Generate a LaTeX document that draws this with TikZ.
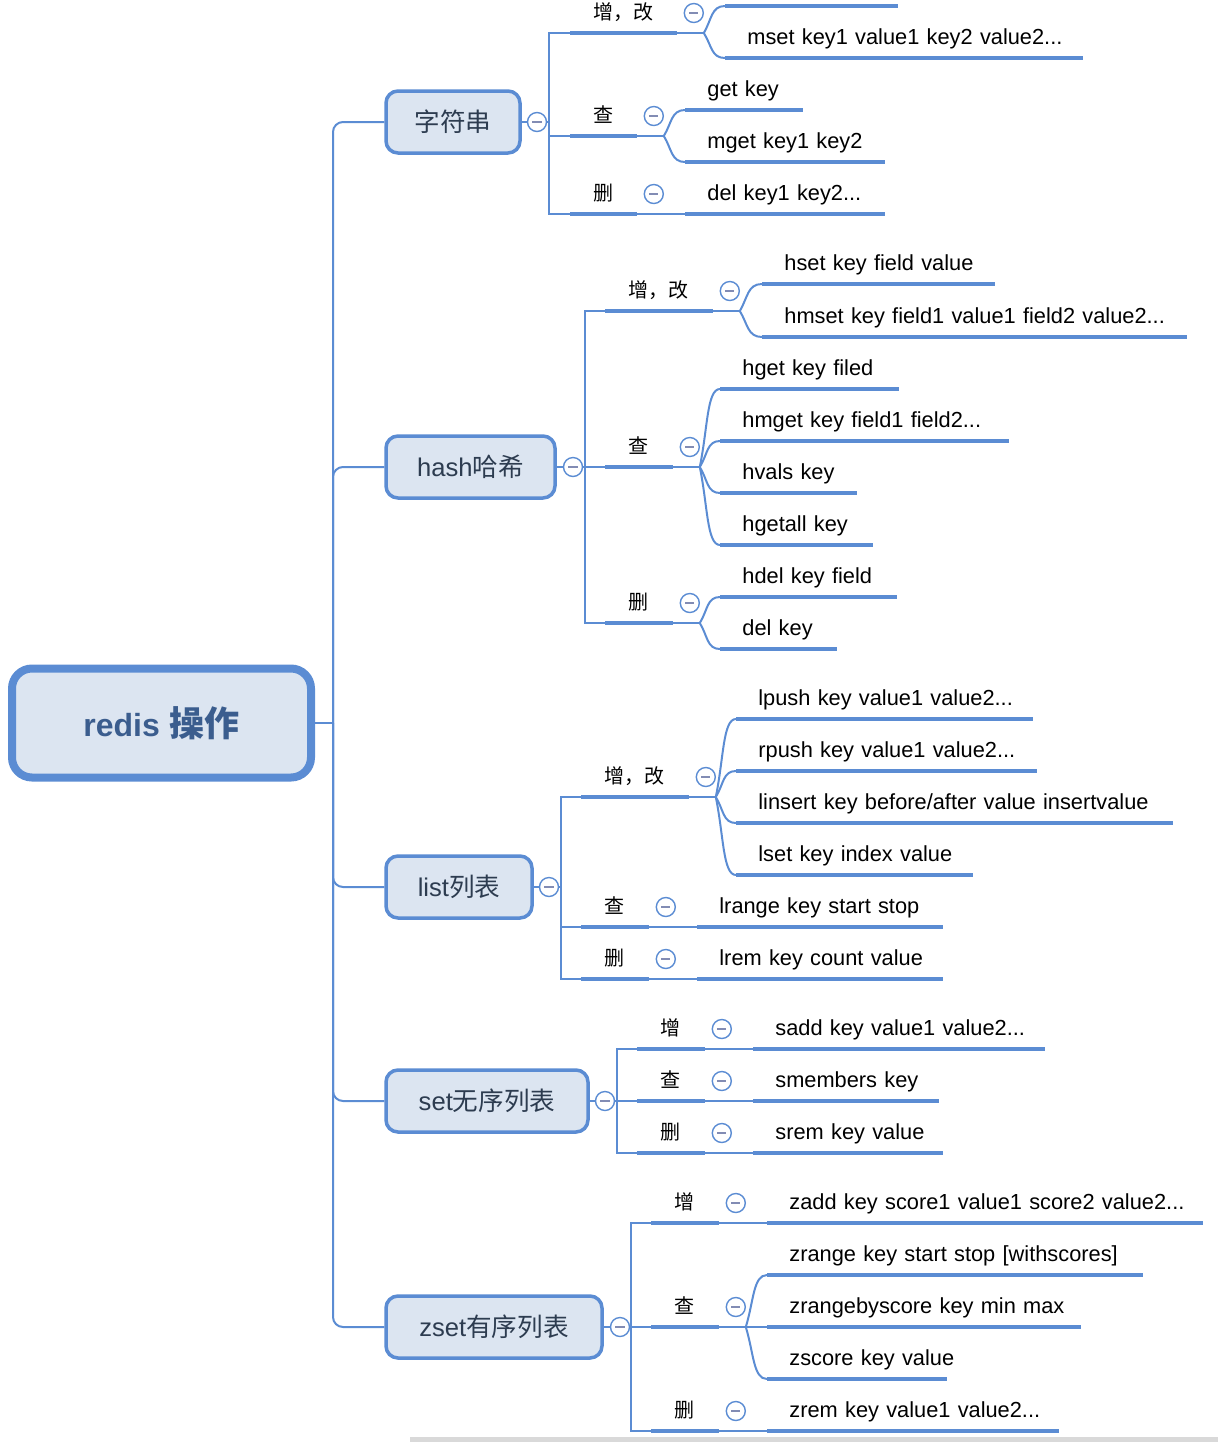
\documentclass[tikz,border=0pt]{standalone}
\usepackage{fontspec}
\setmainfont{Liberation Sans}
\newfontfamily\cjk{Noto Sans CJK SC}
\usepackage{tikz}
\usetikzlibrary{positioning,calc}
\definecolor{linkblue}{RGB}{91,140,211}
\definecolor{topicfill}{RGB}{220,229,241}
\definecolor{roottext}{RGB}{59,93,142}
\definecolor{topictext}{RGB}{45,60,80}
\definecolor{minusgray}{RGB}{130,140,180}

\begin{document}
\begin{tikzpicture}[
    x=0.5pt, y=-0.5pt,
    root/.style={draw=linkblue, line width=4pt, fill=topicfill, rounded corners=10pt, minimum width=149.5pt, minimum height=54.5pt, text=roottext, font=\fontsize{17.5}{20}\selectfont\bfseries},
    topic/.style={draw=linkblue, line width=1.75pt, fill=topicfill, rounded corners=6pt, minimum height=31pt, text=topictext, font=\fontsize{12.8}{15}\selectfont},
    sub/.style={anchor=south west, inner xsep=0pt, inner ysep=6.7pt, text height=8pt, text depth=0pt, font=\fontsize{10}{12}\selectfont\cjk},
    leaf/.style={anchor=south west, inner xsep=0pt, inner ysep=6.4pt, text height=8pt, text depth=0pt, align=left, font=\fontsize{10.9}{13}\selectfont, execute at begin node={\hspace*{11pt}\hbox\bgroup}, execute at end node={\egroup}},
    fold/.style={circle, draw=linkblue, line width=0.7pt, fill=white, minimum size=9.5pt, inner sep=0pt, path picture={\draw[minusgray, line width=0.8pt] ([xshift=-2.3pt]path picture bounding box.center) -- ([xshift=2.3pt]path picture bounding box.center);}},
    link/.style={draw=linkblue, line width=1pt},
    uline/.style={draw=linkblue, line width=2.2pt}
]
\useasboundingbox (0,0) rectangle (1218,1442);

% Root and topics
\node[root] (root) at (161.5,723) {{\fontsize{16}{20}\selectfont redis} {\cjk 操作}};
\node[topic, minimum width=67pt] (str) at (453,122) {\cjk 字符串};
\node[topic, minimum width=84.5pt] (hash) at (470.5,467) {hash{\cjk 哈希}};
\node[topic, minimum width=73pt] (list) at (459,887) {list{\cjk 列表}};
\node[topic, minimum width=101pt] (set) at (487,1101) {set{\cjk 无序列表}};
\node[topic, minimum width=108pt] (zset) at (494,1327) {zset{\cjk 有序列表}};

% Operations
\node[sub, minimum width=53pt] (stradd) at (570,33) {增，改};
\node[sub, minimum width=33pt] (strget) at (570,136) {查};
\node[sub, minimum width=33pt] (strdel) at (570,214) {删};

\node[sub, minimum width=53.5pt] (hashadd) at (605,311) {增，改};
\node[sub, minimum width=33.5pt] (hashget) at (605,467) {查};
\node[sub, minimum width=33.5pt] (hashdel) at (605,623) {删};

\node[sub, minimum width=53.5pt] (listadd) at (581,797) {增，改};
\node[sub, minimum width=33.5pt] (listget) at (581,927) {查};
\node[sub, minimum width=33.5pt] (listdel) at (581,979) {删};

\node[sub, minimum width=33.5pt] (setadd) at (637,1049) {增};
\node[sub, minimum width=33.5pt] (setget) at (637,1101) {查};
\node[sub, minimum width=33.5pt] (setdel) at (637,1153) {删};

\node[sub, minimum width=33.5pt] (zsetadd) at (651,1223) {增};
\node[sub, minimum width=33.5pt] (zsetget) at (651,1327) {查};
\node[sub, minimum width=33.5pt] (zsetdel) at (651,1431) {删};

% Commands
\node[leaf, text width=86pt] (strset) at (725,6) {};
\node[leaf, text width=178.5pt] (strmset) at (725,58) {mset key1 value1 key2 value2...};
\node[leaf, text width=58.5pt] (strgetk) at (685,110) {get key};
\node[leaf, text width=99.5pt] (strmget) at (685,162) {mget key1 key2};
\node[leaf, text width=99.5pt] (strdelk) at (685,214) {del key1 key2...};

\node[leaf, text width=116pt] (hashset) at (762,284) {hset key field value};
\node[leaf, text width=212pt] (hashmset) at (762,337) {hmset key field1 value1 field2 value2...};
\node[leaf, text width=89pt] (hashgetk) at (720,389) {hget key filed};
\node[leaf, text width=144pt] (hashmget) at (720,441) {hmget key field1 field2...};
\node[leaf, text width=68pt] (hashvals) at (720,493) {hvals key};
\node[leaf, text width=76pt] (hashgetall) at (720,545) {hgetall key};
\node[leaf, text width=88pt] (hashdelk) at (720,597) {hdel key field};
\node[leaf, text width=58pt] (hashdelall) at (720,649) {del key};

\node[leaf, text width=148pt] (listlpush) at (736,719) {lpush key value1 value2...};
\node[leaf, text width=150pt] (listrpush) at (736,771) {rpush key value1 value2...};
\node[leaf, text width=218pt] (listinsert) at (736,823) {linsert key before/after value insertvalue};
\node[leaf, text width=118pt] (listlset) at (736,875) {lset key index value};
\node[leaf, text width=122.5pt] (listrange) at (697,927) {lrange key start stop};
\node[leaf, text width=122.5pt] (listrem) at (697,979) {lrem key count value};

\node[leaf, text width=145.5pt] (setsadd) at (753,1049) {sadd key value1 value2...};
\node[leaf, text width=92.5pt] (setmembers) at (753,1101) {smembers key};
\node[leaf, text width=94.5pt] (setsrem) at (753,1153) {srem key value};

\node[leaf, text width=217.5pt] (zsetzadd) at (767,1223) {zadd key score1 value1 score2 value2...};
\node[leaf, text width=187.5pt] (zsetrange) at (767,1275) {zrange key start stop [withscores]};
\node[leaf, text width=156.5pt] (zsetbyscore) at (767,1327) {zrangebyscore key min max};
\node[leaf, text width=89.5pt] (zsetscore) at (767,1379) {zscore key value};
\node[leaf, text width=145.5pt] (zsetzrem) at (767,1431) {zrem key value1 value2...};

% Root branches
\coordinate (rootf) at (333,723);
\draw[link] (root.east) -- (rootf);
\draw[link, rounded corners=5pt] (rootf) |- (str.west);
\draw[link, rounded corners=5pt] (rootf) |- (hash.west);
\draw[link, rounded corners=5pt] (rootf) |- (list.west);
\draw[link, rounded corners=5pt] (rootf) |- (set.west);
\draw[link, rounded corners=5pt] (rootf) |- (zset.west);

% Topic branches
\coordinate (strf) at (549,122);
\coordinate (hashf) at (585,467);
\coordinate (listf) at (561,887);
\coordinate (setf) at (617,1101);
\coordinate (zsetf) at (631,1327);
\draw[link] (str.east) -- (strf);
\draw[link] (hash.east) -- (hashf);
\draw[link] (list.east) -- (listf);
\draw[link] (set.east) -- (setf);
\draw[link] (zset.east) -- (zsetf);
\foreach \t/\s in {str/stradd,str/strget,str/strdel,hash/hashadd,hash/hashget,hash/hashdel,list/listadd,list/listget,list/listdel,set/setadd,set/setget,set/setdel,zset/zsetadd,zset/zsetget,zset/zsetdel}
  \draw[link] (\t f) |- (\s.south west);

% Forks to commands
\coordinate (straddf) at ([xshift=13.5pt]stradd.south east);
\coordinate (strgetf) at ([xshift=13.5pt]strget.south east);
\coordinate (hashaddf) at ([xshift=13.5pt]hashadd.south east);
\coordinate (hashgetf) at ([xshift=13.5pt]hashget.south east);
\coordinate (hashdelf) at ([xshift=13.5pt]hashdel.south east);
\coordinate (listaddf) at ([xshift=13.5pt]listadd.south east);
\coordinate (zsetgetf) at ([xshift=13.5pt]zsetget.south east);
\foreach \s in {stradd,strget,hashadd,hashget,hashdel,listadd,zsetget}
  \draw[link] (\s.south east) -- (\s f);
\foreach \s/\c in {stradd/strset,stradd/strmset,strget/strgetk,strget/strmget,
    hashadd/hashset,hashadd/hashmset,hashget/hashgetk,hashget/hashmget,hashget/hashvals,hashget/hashgetall,
    hashdel/hashdelk,hashdel/hashdelall,listadd/listlpush,listadd/listrpush,listadd/listinsert,listadd/listlset,
    zsetget/zsetrange,zsetget/zsetbyscore,zsetget/zsetscore}
  \draw[link] let \p1=(\s f), \p2=(\c.south west) in
    (\p1) .. controls ({\x1+4pt},{0.5*\y1+0.5*\y2}) and ({0.65*\x1+0.35*\x2},\y2) .. (\p2);
\draw[link] (strdel.south east) -- (strdelk.south west);
\draw[link] (listget.south east) -- (listrange.south west);
\draw[link] (listdel.south east) -- (listrem.south west);
\draw[link] (setadd.south east) -- (setsadd.south west);
\draw[link] (setget.south east) -- (setmembers.south west);
\draw[link] (setdel.south east) -- (setsrem.south west);
\draw[link] (zsetadd.south east) -- (zsetzadd.south west);
\draw[link] (zsetdel.south east) -- (zsetzrem.south west);

% Underlines
\foreach \n in {stradd,strget,strdel,hashadd,hashget,hashdel,listadd,listget,listdel,setadd,setget,setdel,zsetadd,zsetget,zsetdel,
    strset,strmset,strgetk,strmget,strdelk,hashset,hashmset,hashgetk,hashmget,hashvals,hashgetall,hashdelk,hashdelall,
    listlpush,listrpush,listinsert,listlset,listrange,listrem,setsadd,setmembers,setsrem,
    zsetzadd,zsetrange,zsetbyscore,zsetscore,zsetzrem}
  \draw[uline] (\n.south west) -- (\n.south east);

% Fold buttons
\node[fold] (strm) at (537,122) {};
\node[fold] (hashm) at (573,467) {};
\node[fold] (listm) at (549,887) {};
\node[fold] (setm) at (605,1101) {};
\node[fold] (zsetm) at (620,1327) {};
\foreach \s in {stradd,strget,strdel,hashadd,hashget,hashdel,listadd,listget,listdel,setadd,setget,setdel,zsetadd,zsetget,zsetdel}
  \node[fold] (\s m) at ([xshift=8.5pt,yshift=10pt]\s.south east) {};

% window edge
\fill[black!15] (410,1437) rectangle (1218,1442);
\end{tikzpicture}
\end{document}
